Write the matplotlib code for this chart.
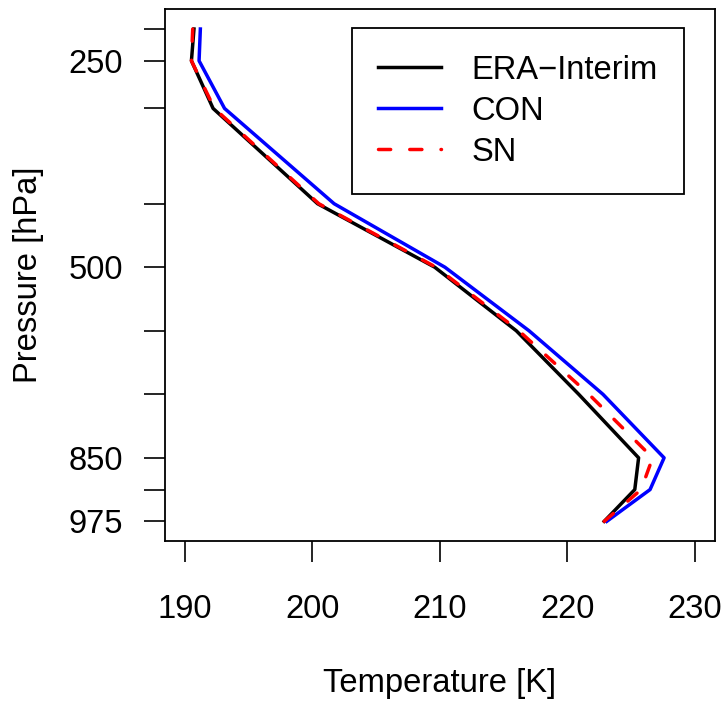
import matplotlib.pyplot as plt

plt.rcParams["font.family"] = ["Liberation Sans", "DejaVu Sans"]

# pressure levels (hPa) and their position on the (level-spaced) vertical axis
pressure_levels = [200, 250, 300, 400, 500, 600, 700, 850, 925, 975]
level_position = [0, 1, 2.5, 5.5, 7.5, 9.5, 11.5, 13.5, 14.5, 15.5]
labelled_levels = [250, 500, 850, 975]

# temperature profiles (K)
era_interim = [190.7, 190.5, 192.2, 200.4, 209.6, 216.0, 220.9, 225.6, 225.3, 222.9]
con = [191.2, 191.1, 193.1, 201.7, 210.4, 217.0, 222.8, 227.6, 226.5, 223.1]
sn = [190.6, 190.5, 192.3, 200.5, 209.7, 216.2, 221.7, 226.7, 225.8, 222.9]

temperature_ticks = [190, 200, 210, 220, 230]

FS = 23.6
LW = 2.5


def main() -> None:
    fig = plt.figure(figsize=(7.28, 7.01), dpi=100)
    ax = fig.add_axes([0.2262, 0.2282, 0.756, 0.7585])

    ax.plot(era_interim, level_position, color="black", lw=LW, label="ERA\u2212Interim")
    ax.plot(con, level_position, color="#0000ff", lw=LW, label="CON")
    ax.plot(sn, level_position, color="#ff0000", lw=LW, dashes=(3.5, 5.5),
            dash_capstyle="round", label="SN")

    ax.set_xlim(188.4, 231.6)
    ax.set_ylim(16.12, -0.62)

    ax.set_xticks(temperature_ticks, [str(t) for t in temperature_ticks])
    ax.set_yticks(level_position,
                  [str(p) if p in labelled_levels else "" for p in pressure_levels])
    ax.tick_params(axis="both", labelsize=FS, length=15, width=1.2, direction="out")
    ax.tick_params(axis="x", pad=23)
    ax.tick_params(axis="y", pad=15)
    for spine in ax.spines.values():
        spine.set_linewidth(1.3)

    ax.set_xlabel("Temperature [K]", fontsize=FS, va="baseline")
    ax.xaxis.set_label_coords(0.5, -0.284)
    ax.set_ylabel("Pressure [hPa]", fontsize=FS, va="baseline")
    ax.yaxis.set_label_coords(-0.232, 0.5)

    leg = ax.legend(loc="upper left", bbox_to_anchor=(0.3398, 0.9643),
                    borderaxespad=0, fontsize=FS, fancybox=False, framealpha=1,
                    edgecolor="black", handlelength=1.93, handletextpad=0.92,
                    borderpad=0.8, labelspacing=0.31)
    leg.get_frame().set_linewidth(1.3)

    fig.savefig("out.png", dpi=100)
    plt.close(fig)


if __name__ == "__main__":
    main()
